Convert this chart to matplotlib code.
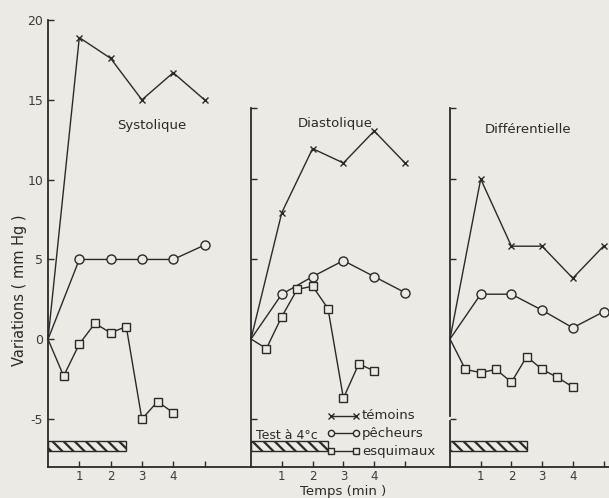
import matplotlib
matplotlib.use("Agg")
import matplotlib.pyplot as plt
from matplotlib.patches import Rectangle

# temps (min)
t_main = [0, 1, 2, 3, 4, 5]
t_half = [0, 0.5, 1, 1.5, 2, 2.5, 3, 3.5, 4]

# Systolique
sys_temoins = [0, 18.9, 17.6, 15, 16.7, 15]
sys_pecheurs = [0, 5, 5, 5, 5, 5.9]
sys_esquimaux = [0, -2.3, -0.3, 1.0, 0.4, 0.8, -5, -3.9, -4.6]

# Diastolique
dia_temoins = [0, 7.9, 11.9, 11.0, 13.0, 11.0]
dia_pecheurs = [0, 2.8, 3.9, 4.9, 3.9, 2.9]
dia_esquimaux = [0, -0.6, 1.4, 3.1, 3.3, 1.9, -3.7, -1.55, -2.0]

# Differentielle
dif_temoins = [0, 10, 5.8, 5.8, 3.8, 5.8]
dif_pecheurs = [0, 2.8, 2.8, 1.8, 0.7, 1.7]
dif_esquimaux = [0, -1.9, -2.1, -1.9, -2.7, -1.1, -1.9, -2.4, -3.0]

titles = ["Systolique", "Diastolique", "Différentielle"]
test_duration = 2.5

bg = "#ebeae4"
ink = "#2a2a2a"
plt.rcParams["hatch.linewidth"] = 1.6

fig = plt.figure(figsize=(6.09, 4.98), dpi=100, facecolor=bg)
W, H = 609.0, 498.0

# panel geometry in pixels: left, right, top, px per minute
panels = [(48, 251, 20, 31.3), (251, 450, 108, 30.8), (450, 609, 108, 30.7)]
bottom_px = 467
px_per_unit = 16.0

data = [
    (sys_temoins, sys_pecheurs, sys_esquimaux),
    (dia_temoins, dia_pecheurs, dia_esquimaux),
    (dif_temoins, dif_pecheurs, dif_esquimaux),
]
title_pos = [(3.3, 13.4), (2.73, 13.45), (2.54, 13.1)]

axes = []
for i, (l, r, top, pxmin) in enumerate(panels):
    ax = fig.add_axes([l / W, 1 - bottom_px / H, (r - l) / W, (bottom_px - top) / H])
    ax.set_facecolor("none")
    ymax = -8 + (bottom_px - top) / px_per_unit
    ax.set_xlim(0, (r - l) / pxmin)
    ax.set_ylim(-8, ymax)
    for s in ["top", "right"]:
        ax.spines[s].set_visible(False)
    ax.spines["bottom"].set_color(ink)
    ax.spines["left"].set_color(ink)
    ax.spines["bottom"].set_linewidth(1.3)
    ax.spines["left"].set_linewidth(1.3)
    ax.set_xticks([1, 2, 3, 4, 5])
    ax.set_xticklabels(["1", "2", "3", "4", ""])
    ax.tick_params(direction="in", length=4, width=1.0, color=ink,
                   labelcolor="#3a3a3a", labelsize=8.5)
    ax.tick_params(axis="x", pad=2)
    if i == 0:
        ax.set_yticks([-5, 0, 5, 10, 15, 20])
        ax.set_yticklabels(["-5", "0", "5", "10", "15", "20"], fontsize=9)
    else:
        ax.set_yticks([-5, 5, 10, ymax])
        ax.set_yticklabels([])

    tem, pec, esq = data[i]
    ax.plot(t_main, tem, color=ink, lw=1.0, marker="x", ms=5, mew=1.0,
            markevery=slice(1, None), clip_on=False, zorder=3)
    ax.plot(t_main, pec, color=ink, lw=1.0, marker="o", ms=6.5, mew=1.0,
            mfc=bg, markevery=slice(1, None), clip_on=False, zorder=3)
    ax.plot(t_half, esq, color=ink, lw=1.0, marker="s", ms=5.5, mew=1.0,
            mfc=bg, markevery=slice(1, None), clip_on=False, zorder=3)

    ax.add_patch(Rectangle((0, -7.0), test_duration, 0.6, facecolor="none",
                           edgecolor=ink, lw=1.0, hatch="\\\\\\", zorder=2))
    ax.text(title_pos[i][0], title_pos[i][1], titles[i], ha="center",
            va="center", fontsize=9.5, color=ink)
    axes.append(ax)

# gap in the third panel's axis
ax3 = axes[2]
ax3.spines["left"].set_visible(False)
ax3.plot([0, 0], [-8, -5.1], color=ink, lw=1.3, clip_on=False)
ax3.plot([0, 0], [-4.8, ax3.get_ylim()[1]], color=ink, lw=1.3, clip_on=False)

ax2 = axes[1]
ax2.text(0.15, -6.05, "Test à 4°c", fontsize=9, color=ink, ha="left", va="center")

# legend drawn by hand in panel 2
leg_x0, leg_x1, leg_tx = 2.6, 3.4, 3.6
leg_rows = [(-4.8, "x", "témoins"), (-5.9, "o", "pêcheurs"), (-7.0, "s", "esquimaux")]
for y, m, lab in leg_rows:
    ax2.plot([leg_x0, leg_x1], [y, y], color=ink, lw=1.0, marker=m, ms=4.5,
             mew=1.0, mfc=bg, clip_on=False, zorder=4)
    ax2.text(leg_tx, y, lab, fontsize=9.5, color=ink, va="center", ha="left")

fig.text(343 / W, 1 - 491.5 / H, "Temps (min )", ha="center", va="center",
         fontsize=9.5, color=ink)

fig.text(20 / W, 1 - 290 / H, "Variations ( mm Hg )", rotation=90,
         ha="center", va="center", fontsize=10.5, color=ink)

fig.savefig("out.png", dpi=100, facecolor=bg)
